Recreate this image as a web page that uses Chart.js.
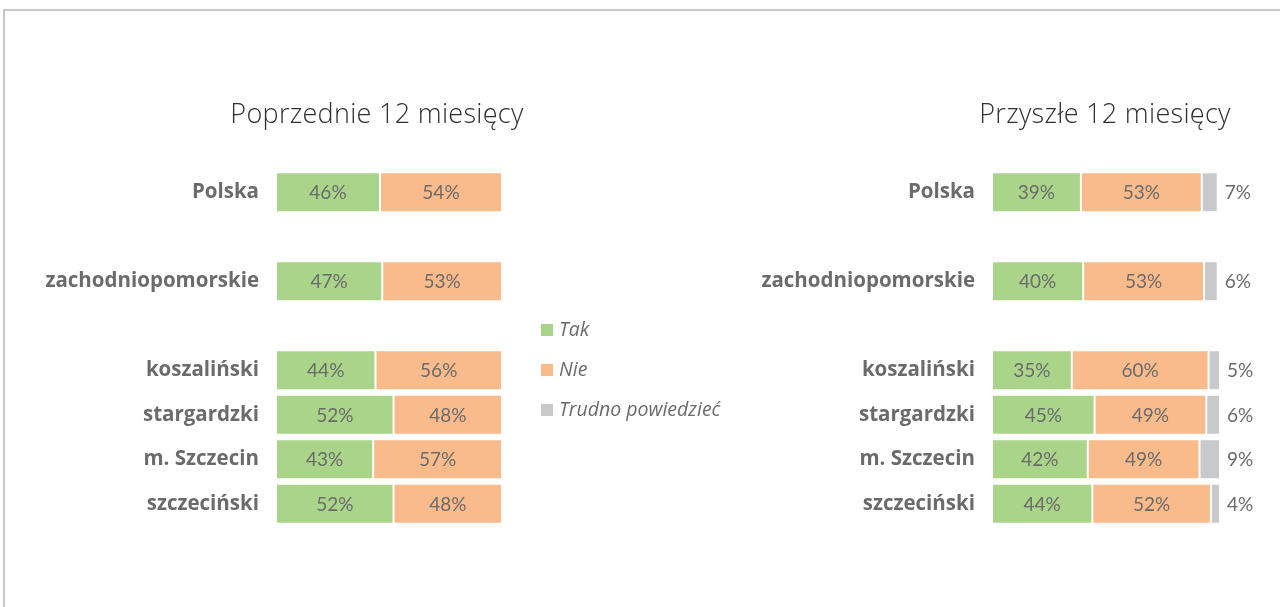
<!DOCTYPE html>
<html lang="pl">
<head>
    <meta charset="UTF-8">
    <title>Poprzednie / Przyszłe 12 miesięcy</title>
    <style>
        body {
            margin: 0;
            padding: 0;
            background: #fff;
            width: 1280px;
            height: 607px;
            overflow: hidden;
            position: relative;
            font-family: 'Open Sans', sans-serif;
        }
        .frame {
            position: absolute;
            left: 3px;
            top: 9px;
            width: 1300px;
            height: 620px;
            border-top: 2px solid #c8c8c8;
            border-left: 2px solid #c8c8c8;
        }
        .panel {
            position: absolute;
            top: 0;
            height: 607px;
        }
        #prevPanel { left: 0; width: 760px; }
        #nextPanel { left: 700px; width: 580px; }
        h2 {
            position: absolute;
            top: 97px;
            margin: 0;
            width: 360px;
            text-align: center;
            font-weight: 300;
            font-size: 27px;
            line-height: 32px;
            letter-spacing: 0.3px;
            color: #303030;
        }
        #prevTitle { left: 197px; }
        #nextTitle { left: 925px; }
    </style>
</head>
<body>
    <div class="frame"></div>
    <div class="panel" id="prevPanel"><canvas id="prevChart"></canvas></div>
    <div class="panel" id="nextPanel"><canvas id="nextChart"></canvas></div>
    <h2 id="prevTitle">Poprzednie 12 miesięcy</h2>
    <h2 id="nextTitle">Przyszłe 12 miesięcy</h2>

    <script src="https://cdn.jsdelivr.net/npm/chart.js"></script>
    <script>
        // empty labels leave the gaps between the groups of rows
        const categories = ['Polska', '', 'zachodniopomorskie', '', 'koszaliński', 'stargardzki', 'm. Szczecin', 'szczeciński'];

        const seriesNames = ['Tak', 'Nie', 'Trudno powiedzieć'];
        const seriesColors = ['#abd48b', '#f9bb8b', '#c8c9cb'];

        const prevTak = [46, null, 47, null, 44, 52, 43, 52];
        const prevNie = [54, null, 53, null, 56, 48, 57, 48];

        const nextTak = [39, null, 40, null, 35, 45, 42, 44];
        const nextNie = [53, null, 53, null, 60, 49, 49, 52];
        const nextTrudno = [7, null, 6, null, 5, 6, 9, 4];

        const labelColor = '#6b6b6b';

        // percent labels: inside the segment, or just past the bar end for the last series
        const valueLabels = {
            id: 'valueLabels',
            afterDatasetsDraw(chart) {
                const ctx = chart.ctx;
                ctx.save();
                ctx.font = '19px Lato';
                ctx.fillStyle = labelColor;
                ctx.textBaseline = 'middle';
                chart.data.datasets.forEach((ds, i) => {
                    const meta = chart.getDatasetMeta(i);
                    meta.data.forEach((bar, j) => {
                        const v = ds.data[j];
                        if (v == null) return;
                        if (ds.outside) {
                            ctx.textAlign = 'left';
                            ctx.fillText(v + '%', bar.x + 7, bar.y + 1);
                        } else {
                            ctx.textAlign = 'center';
                            ctx.fillText(v + '%', (bar.x + bar.base) / 2, bar.y + 1);
                        }
                    });
                });
                ctx.restore();
            }
        };

        // shared legend, drawn once to the right of the first chart
        const sideLegend = {
            id: 'sideLegend',
            afterDraw(chart) {
                const ctx = chart.ctx;
                const x = chart.chartArea.right + 39;
                let y = 330;
                ctx.save();
                ctx.font = 'italic 19.5px "Open Sans"';
                ctx.textBaseline = 'middle';
                ctx.textAlign = 'left';
                seriesNames.forEach((name, i) => {
                    ctx.fillStyle = seriesColors[i];
                    ctx.fillRect(x, y - 6, 12, 12);
                    ctx.fillStyle = labelColor;
                    ctx.fillText(name, x + 18, y);
                    y += 40;
                });
                ctx.restore();
            }
        };

        function makeDataset(i, data, outside) {
            return {
                label: seriesNames[i],
                data: data,
                backgroundColor: seriesColors[i],
                borderColor: '#ffffff',
                borderWidth: 1,
                borderSkipped: false,
                barPercentage: 0.9,
                categoryPercentage: 1,
                outside: outside
            };
        }

        function makeOptions(pad, axisWidth) {
            return {
                indexAxis: 'y',
                responsive: true,
                maintainAspectRatio: false,
                animation: false,
                layout: { padding: pad },
                plugins: {
                    legend: { display: false },
                    tooltip: { enabled: false }
                },
                scales: {
                    x: {
                        stacked: true,
                        display: false,
                        min: 0,
                        max: 100
                    },
                    y: {
                        stacked: true,
                        grid: { display: false, drawTicks: false },
                        border: { display: false },
                        ticks: {
                            padding: 17,
                            color: labelColor,
                            font: { family: 'Open Sans', weight: 'bold', size: 20.5 }
                        },
                        afterFit(scale) { scale.width = axisWidth; }
                    }
                }
            };
        }

        new Chart(document.getElementById('prevChart'), {
            type: 'bar',
            data: {
                labels: categories,
                datasets: [
                    makeDataset(0, prevTak, false),
                    makeDataset(1, prevNie, false)
                ]
            },
            options: makeOptions({ left: 0, right: 258, top: 170, bottom: 81 }, 276),
            plugins: [valueLabels, sideLegend]
        });

        new Chart(document.getElementById('nextChart'), {
            type: 'bar',
            data: {
                labels: categories,
                datasets: [
                    makeDataset(0, nextTak, false),
                    makeDataset(1, nextNie, false),
                    makeDataset(2, nextTrudno, true)
                ]
            },
            options: makeOptions({ left: 0, right: 60, top: 170, bottom: 81 }, 292),
            plugins: [valueLabels]
        });
    </script>
</body>
</html>
